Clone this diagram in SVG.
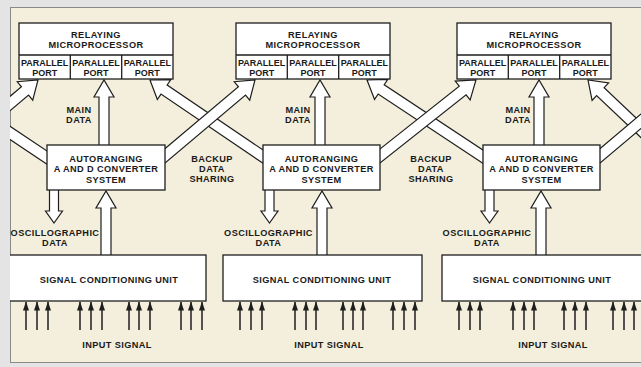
<svg xmlns="http://www.w3.org/2000/svg" width="641" height="367" viewBox="0 0 641 367">
<style>
.box{fill:#fff;stroke:#1e1e1e;stroke-width:1.3}
.fat{fill:#fff;stroke:#1e1e1e;stroke-width:1.2;stroke-linejoin:miter}
.t{font-family:"Liberation Sans",Arial,sans-serif;font-weight:bold;font-size:9.2px;fill:#1a1a1a;text-anchor:middle;letter-spacing:0.4px}
.p{font-size:9px;letter-spacing:0px}
.sig line{stroke:#1e1e1e;stroke-width:1.5;marker-end:url(#ah)}
</style>
<defs>
<clipPath id="panel"><rect x="10" y="7" width="640" height="356"/></clipPath>
<marker id="ah" markerUnits="userSpaceOnUse" viewBox="0 0 9 6" markerWidth="9" markerHeight="6" refX="8.5" refY="3" orient="auto"><path d="M0,0 L9,3 L0,6 Z" fill="#1e1e1e"/></marker>
</defs>
<rect x="0" y="0" width="641" height="367" fill="#e4e4e4"/>
<rect x="10.5" y="7.5" width="640" height="355" fill="#f3efdc" stroke="#8a8a8a" stroke-width="1"/>

<g id="connectors" clip-path="url(#panel)">
  <!-- backup data sharing strips (B under A) -->
  <path class="fat" transform="translate(-69,80) rotate(-146.2)" d="M-150,-5.5 H-17 V-12 L0,0 L-17,12 V5.5 H-150 Z"/>
  <path class="fat" transform="translate(38,80) rotate(-40.1)" d="M-140,-5.5 H-17 V-12 L0,0 L-17,12 V5.5 H-140 Z"/>
  <path class="fat" transform="translate(150,80) rotate(-145.86)" d="M-144,-5.5 H-17 V-12 L0,0 L-17,12 V5.5 H-144 Z"/>
  <path class="fat" transform="translate(255,80) rotate(-40.1)" d="M-126,-5.5 H-17 V-12 L0,0 L-17,12 V5.5 H-126 Z"/>
  <path class="fat" transform="translate(367,80) rotate(-146.53)" d="M-147,-5.5 H-17 V-12 L0,0 L-17,12 V5.5 H-147 Z"/>
  <path class="fat" transform="translate(476,80) rotate(-38.38)" d="M-130,-5.5 H-17 V-12 L0,0 L-17,12 V5.5 H-130 Z"/>
  <path class="fat" transform="translate(588,80) rotate(-136.6)" d="M-110,-5.5 H-17 V-12 L0,0 L-17,12 V5.5 H-110 Z"/>
  <path class="fat" transform="translate(690,80) rotate(-40.1)" d="M-126,-5.5 H-17 V-12 L0,0 L-17,12 V5.5 H-126 Z"/>
  <!-- main data arrows -->
  <path class="fat" d="M99,146 V97 H94 L104,80 L114,97 H109 V146 Z"/>
  <path class="fat" d="M315,146 V97 H310 L320,80 L330,97 H325 V146 Z"/>
  <path class="fat" d="M534,146 V97 H529 L539,80 L549,97 H544 V146 Z"/>
  <!-- signal conditioning to converter arrows -->
  <path class="fat" d="M101,256 V208 H96 L106,191 L116,208 H111 V256 Z"/>
  <path class="fat" d="M317,256 V208 H312 L322,191 L332,208 H327 V256 Z"/>
  <path class="fat" d="M536,256 V208 H531 L541,191 L551,208 H546 V256 Z"/>
  <!-- oscillographic data arrows -->
  <path class="fat" d="M49.5,189 V211 H45.5 L54,223 L62.5,211 H58.5 V189 Z"/>
  <path class="fat" d="M265,189 V211 H261 L269.5,223 L278,211 H274 V189 Z"/>
  <path class="fat" d="M485,189 V211 H481 L489.5,223 L498,211 H494 V189 Z"/>
  <!-- input signal arrows -->
  <g class="sig">
    <line x1="26" y1="330" x2="26" y2="302"/><line x1="37" y1="330" x2="37" y2="302"/><line x1="48" y1="330" x2="48" y2="302"/>
    <line x1="80" y1="330" x2="80" y2="302"/><line x1="91" y1="330" x2="91" y2="302"/><line x1="102" y1="330" x2="102" y2="302"/>
    <line x1="129" y1="330" x2="129" y2="302"/><line x1="139" y1="330" x2="139" y2="302"/><line x1="150" y1="330" x2="150" y2="302"/>
    <line x1="181" y1="330" x2="181" y2="302"/><line x1="191" y1="330" x2="191" y2="302"/><line x1="202" y1="330" x2="202" y2="302"/>
    <line x1="240" y1="330" x2="240" y2="302"/><line x1="251" y1="330" x2="251" y2="302"/><line x1="262" y1="330" x2="262" y2="302"/>
    <line x1="295" y1="330" x2="295" y2="302"/><line x1="306" y1="330" x2="306" y2="302"/><line x1="316" y1="330" x2="316" y2="302"/>
    <line x1="343" y1="330" x2="343" y2="302"/><line x1="353" y1="330" x2="353" y2="302"/><line x1="363" y1="330" x2="363" y2="302"/>
    <line x1="393" y1="330" x2="393" y2="302"/><line x1="404" y1="330" x2="404" y2="302"/><line x1="415" y1="330" x2="415" y2="302"/>
    <line x1="459" y1="330" x2="459" y2="302"/><line x1="470" y1="330" x2="470" y2="302"/><line x1="480" y1="330" x2="480" y2="302"/>
    <line x1="513" y1="330" x2="513" y2="302"/><line x1="524" y1="330" x2="524" y2="302"/><line x1="534" y1="330" x2="534" y2="302"/>
    <line x1="564" y1="330" x2="564" y2="302"/><line x1="575" y1="330" x2="575" y2="302"/><line x1="586" y1="330" x2="586" y2="302"/>
    <line x1="613" y1="330" x2="613" y2="302"/><line x1="624" y1="330" x2="624" y2="302"/><line x1="634" y1="330" x2="634" y2="302"/>
  </g>
</g>

<g id="labels">
  <text class="t" x="79" y="113.3">MAIN</text><text class="t" x="79" y="123.3">DATA</text>
  <text class="t" x="298" y="113.3">MAIN</text><text class="t" x="298" y="123.3">DATA</text>
  <text class="t" x="518" y="113.3">MAIN</text><text class="t" x="518" y="123.3">DATA</text>
  <text class="t" x="212" y="161.5">BACKUP</text><text class="t" x="212" y="171.5">DATA</text><text class="t" x="212" y="182">SHARING</text>
  <text class="t" x="431" y="161.5">BACKUP</text><text class="t" x="431" y="171.5">DATA</text><text class="t" x="431" y="182">SHARING</text>
  <text class="t" x="55" y="236">OSCILLOGRAPHIC</text><text class="t" x="55" y="245.6">DATA</text>
  <text class="t" x="268.5" y="236">OSCILLOGRAPHIC</text><text class="t" x="268.5" y="245.6">DATA</text>
  <text class="t" x="487" y="236">OSCILLOGRAPHIC</text><text class="t" x="487" y="245.6">DATA</text>
  <text class="t" x="117" y="347.6">INPUT SIGNAL</text>
  <text class="t" x="329" y="347.6">INPUT SIGNAL</text>
  <text class="t" x="553" y="347.6">INPUT SIGNAL</text>
</g>

<g id="micro1">
  <rect class="box" x="19" y="23" width="154" height="56"/>
  <path class="box" d="M19,55 H173 M70.3,55 V79 M121.7,55 V79"/>
  <text class="t" x="96" y="37.5">RELAYING</text><text class="t" x="96" y="47.5">MICROPROCESSOR</text>
  <text class="t p" x="44.7" y="66.3">PARALLEL</text><text class="t p" x="44.7" y="76">PORT</text>
  <text class="t p" x="96" y="66.3">PARALLEL</text><text class="t p" x="96" y="76">PORT</text>
  <text class="t p" x="147.3" y="66.3">PARALLEL</text><text class="t p" x="147.3" y="76">PORT</text>
</g>
<g id="micro2">
  <rect class="box" x="236" y="23" width="154" height="56"/>
  <path class="box" d="M236,55 H390 M287.3,55 V79 M338.7,55 V79"/>
  <text class="t" x="313" y="37.5">RELAYING</text><text class="t" x="313" y="47.5">MICROPROCESSOR</text>
  <text class="t p" x="261.7" y="66.3">PARALLEL</text><text class="t p" x="261.7" y="76">PORT</text>
  <text class="t p" x="313" y="66.3">PARALLEL</text><text class="t p" x="313" y="76">PORT</text>
  <text class="t p" x="364.3" y="66.3">PARALLEL</text><text class="t p" x="364.3" y="76">PORT</text>
</g>
<g id="micro3">
  <rect class="box" x="457" y="23" width="154" height="56"/>
  <path class="box" d="M457,55 H611 M508.3,55 V79 M559.7,55 V79"/>
  <text class="t" x="534" y="37.5">RELAYING</text><text class="t" x="534" y="47.5">MICROPROCESSOR</text>
  <text class="t p" x="482.7" y="66.3">PARALLEL</text><text class="t p" x="482.7" y="76">PORT</text>
  <text class="t p" x="534" y="66.3">PARALLEL</text><text class="t p" x="534" y="76">PORT</text>
  <text class="t p" x="585.3" y="66.3">PARALLEL</text><text class="t p" x="585.3" y="76">PORT</text>
</g>

<g id="conv1">
  <rect class="box" x="47" y="145" width="118" height="45"/>
  <text class="t" x="106" y="161.5">AUTORANGING</text><text class="t" x="106" y="172">A AND D CONVERTER</text><text class="t" x="106" y="182.5">SYSTEM</text>
</g>
<g id="conv2">
  <rect class="box" x="263" y="145" width="117" height="45"/>
  <text class="t" x="321.5" y="161.5">AUTORANGING</text><text class="t" x="321.5" y="172">A AND D CONVERTER</text><text class="t" x="321.5" y="182.5">SYSTEM</text>
</g>
<g id="conv3">
  <rect class="box" x="483" y="145" width="117" height="45"/>
  <text class="t" x="541.5" y="161.5">AUTORANGING</text><text class="t" x="541.5" y="172">A AND D CONVERTER</text><text class="t" x="541.5" y="182.5">SYSTEM</text>
</g>

<g id="scu1" clip-path="url(#panel)">
  <rect class="box" x="4" y="255" width="202" height="46"/>
  <text class="t" x="109" y="282.6">SIGNAL CONDITIONING UNIT</text>
</g>
<g id="scu2">
  <rect class="box" x="223" y="255" width="199" height="46"/>
  <text class="t" x="322" y="282.6">SIGNAL CONDITIONING UNIT</text>
</g>
<g id="scu3" clip-path="url(#panel)">
  <rect class="box" x="442" y="255" width="210" height="46"/>
  <text class="t" x="542" y="282.6">SIGNAL CONDITIONING UNIT</text>
</g>
</svg>
